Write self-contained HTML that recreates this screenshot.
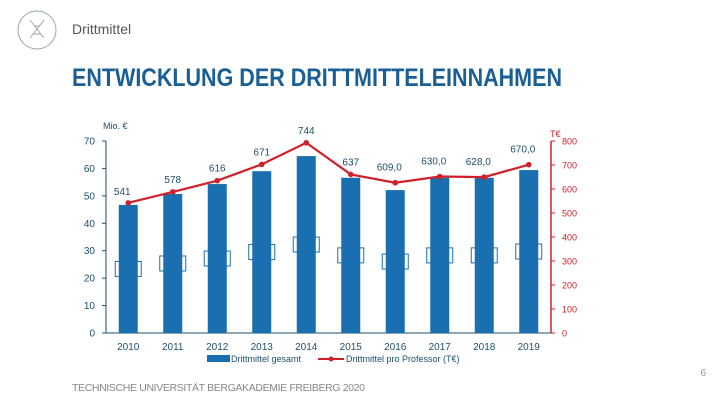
<!DOCTYPE html>
<html><head><meta charset="utf-8"><style>
html,body{margin:0;padding:0;background:#fff;}
svg{display:block;font-family:"Liberation Sans",sans-serif;}
</style></head><body>
<svg width="720" height="405" viewBox="0 0 720 405">
<g fill="none" stroke="#9aa5b0" stroke-width="1">
<circle cx="37" cy="30" r="19"/>
<path d="M30 20 L44 38 M44 20 L30 38 M34 26h6 M33 34h8"/>
</g>
<text x="72" y="34" font-size="14" fill="#555">Drittmittel</text>
<text x="72" y="86" font-size="25" font-weight="bold" fill="#1a5e96" textLength="490" lengthAdjust="spacingAndGlyphs">ENTWICKLUNG DER DRITTMITTELEINNAHMEN</text>
<g id="chart"></g>
<text x="706" y="376" font-size="10" fill="#999" text-anchor="end">6</text>
<text x="72" y="391" font-size="10.5" fill="#888" textLength="293">TECHNISCHE UNIVERSITÄT BERGAKADEMIE FREIBERG 2020</text>
</svg>
<script>
const years=["2010","2011","2012","2013","2014","2015","2016","2017","2018","2019"];
const gesamt=[46.7,50.7,54.3,59.0,64.5,56.6,52.1,56.6,56.6,59.4];
const proProf=[541,578,616,671,744,637,609,630,628,670];
const proLabels=["541","578","616","671","744","637","609,0","630,0","628,0","670,0"];
const leftTicks=[0,10,20,30,40,50,60,70];
const rightTicks=[0,100,200,300,400,500,600,700,800];

const NS="http://www.w3.org/2000/svg";
const g=document.getElementById('chart');
function el(t,a,txt){const e=document.createElementNS(NS,t);for(const k in a)e.setAttribute(k,a[k]);if(txt!=null)e.textContent=txt;g.appendChild(e);return e;}
const x0=106,x1=551,yB=333,yT=141;
const yL=v=>yB-(v/70)*(yB-yT);
const yR=v=>yB-(v/800)*(yB-yT);
// the plotted line in the original uses its own (offset) scale
const yLine=v=>363-0.296*v;
const step=(x1-x0)/years.length;
const xc=i=>x0+step*(i+0.5);
const blue="#1a6fb0",red="#d0202a",txt="#1c4f6e";

let e;
e=el('line',{x1:x0,y1:yT,x2:x0,y2:yB,stroke:"#1c4f6e"});

e=el('line',{x1:x0,y1:yB,x2:x1,y2:yB,stroke:"#1c4f6e"});

e=el('line',{x1:x1,y1:yT,x2:x1,y2:yB,stroke:red,"stroke-width":1.5});

leftTicks.forEach(v=>{
 e=el('line',{x1:x0-4,y1:yL(v),x2:x0,y2:yL(v),stroke:"#1c4f6e"});
 
 e=el('text',{x:x0-11,y:yL(v)+3.5,"font-size":10,fill:txt,"text-anchor":"end"},String(v));
 
});
rightTicks.forEach(v=>{
 e=el('line',{x1:x1,y1:yR(v),x2:x1+4,y2:yR(v),stroke:red});
 
 e=el('text',{x:x1+11,y:yR(v)+3.5,"font-size":9,fill:red},String(v));
 
});
e=el('text',{x:103,y:129,"font-size":9,fill:txt},"Mio. €");

e=el('text',{x:550,y:137,"font-size":9,fill:red},"T€");

years.forEach((y,i)=>{
 const v=gesamt[i],bw=19;
 e=el('rect',{x:xc(i)-bw/2,y:yL(v),width:bw,height:yB-yL(v),fill:blue});
 
 e=el('rect',{x:xc(i)-13,y:yL(v/2)-7.5,width:26,height:15,fill:"none",stroke:blue,"stroke-width":1});
 
 e=el('text',{x:xc(i),y:350,"font-size":10,fill:txt,"text-anchor":"middle"},y);
 
});
const pts=proProf.map((v,i)=>xc(i)+","+yLine(v)).join(" ");
e=el('polyline',{points:pts,fill:"none",stroke:red,"stroke-width":2.2});

proProf.forEach((v,i)=>{
 e=el('circle',{cx:xc(i),cy:yLine(v),r:2.8,fill:red});
 
 const dx=i===0?-6:(i>=6?-6:0);
 e=el('text',{x:xc(i)+dx,y:yLine(v)-(i===0?8:(i>=6?12:9)),"font-size":10,fill:txt,"text-anchor":"middle"},proLabels[i]);
 
});
e=el('rect',{x:207,y:355,width:23,height:7,fill:blue});

e=el('text',{x:231,y:362,"font-size":9,fill:txt},"Drittmittel gesamt");

e=el('line',{x1:318,y1:359,x2:344,y2:359,stroke:red,"stroke-width":2});

e=el('circle',{cx:331,cy:359,r:2.5,fill:red});

e=el('text',{x:346,y:362,"font-size":9,fill:txt},"Drittmittel pro Professor (T€)");

</script>
</body></html>
